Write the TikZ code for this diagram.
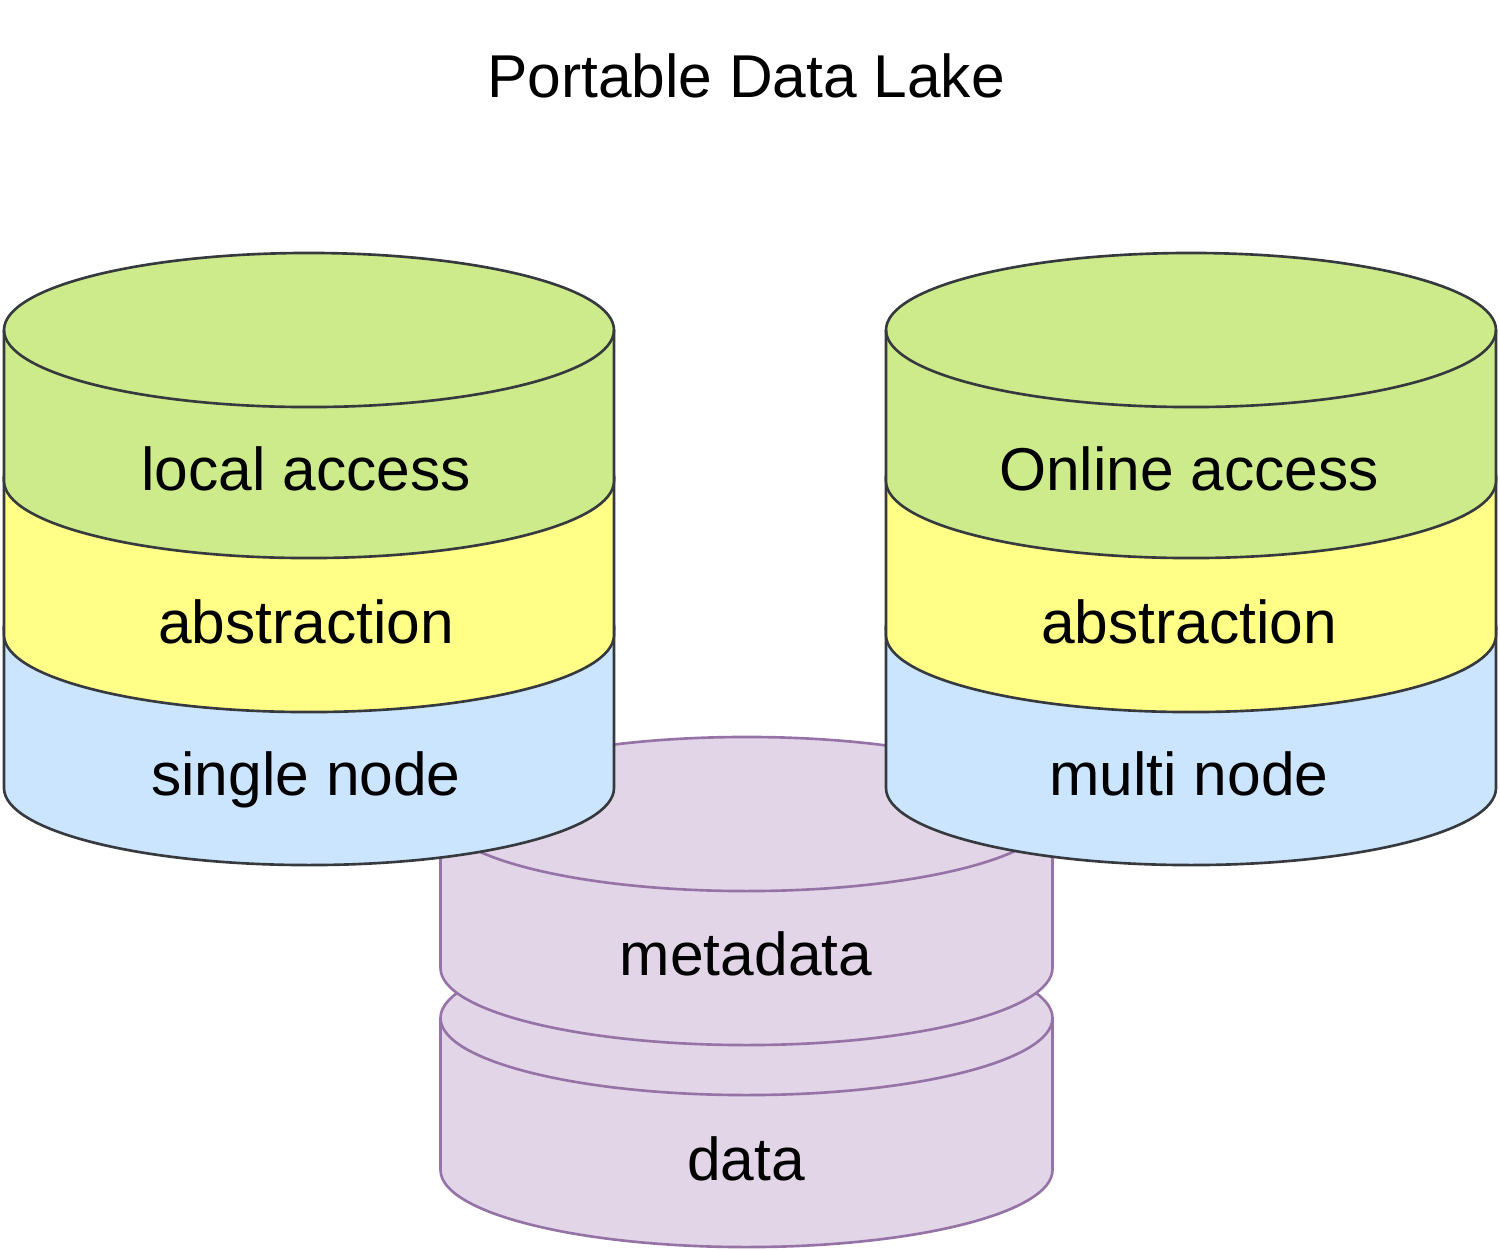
\documentclass[tikz,border=0pt]{standalone}
\usepackage{fontspec}
\setmainfont{Liberation Sans}
\definecolor{gfill}{HTML}{CDEB8B}
\definecolor{yfill}{HTML}{FFFF88}
\definecolor{bfill}{HTML}{CCE5FF}
\definecolor{pfill}{HTML}{E1D5E7}
\definecolor{dstroke}{HTML}{36393D}
\definecolor{pstroke}{HTML}{9673A6}
% #1 centre x, #2 half width, #3 top y, #4 bottom y, #5 style (pixel units, y down)
\newcommand\dbcyl[5]{%
  \path[#5] ({#1-#2},{#3+77}) arc[start angle=180,end angle=0,x radius=#2*0.01cm,y radius=0.77cm]
     -- ({#1+#2},{#4-77}) arc[start angle=0,end angle=-180,x radius=#2*0.01cm,y radius=0.77cm] -- cycle;
  \path[#5,fill=none] ({#1-#2},{#3+77}) arc[start angle=180,end angle=360,x radius=#2*0.01cm,y radius=0.77cm];
}
\begin{document}
\begin{tikzpicture}[x=0.01cm,y=-0.01cm,
  lbl/.style={anchor=base,inner sep=0pt,font=\fontsize{17.2}{20}\selectfont},
  gcyl/.style={fill=gfill,draw=dstroke,line width=0.75pt},
  ycyl/.style={fill=yfill,draw=dstroke,line width=0.75pt},
  bcyl/.style={fill=bfill,draw=dstroke,line width=0.75pt},
  pcyl/.style={fill=pfill,draw=pstroke,line width=0.75pt}]
\useasboundingbox (0,0) rectangle (1500,1250);
% purple store
\dbcyl{746.5}{306}{941}{1247}{pcyl}
\dbcyl{746.5}{306}{737}{1045}{pcyl}
% left stack
\dbcyl{309}{305}{550}{865}{bcyl}
\dbcyl{309}{305}{400}{712}{ycyl}
\dbcyl{309}{305}{253}{558}{gcyl}
% right stack
\dbcyl{1191}{305}{550}{865}{bcyl}
\dbcyl{1191}{305}{400}{712}{ycyl}
\dbcyl{1191}{305}{253}{558}{gcyl}
% labels
\node[lbl] (title) at (746,97) {Portable Data Lake};
\node[lbl] (la) at (306,490) {local access};
\node[lbl] (ab1) at (306,643) {abstraction};
\node[lbl] (sn) at (306,795) {single node};
\node[lbl] (oa) at (1189,490) {Online access};
\node[lbl] (ab2) at (1189,643) {abstraction};
\node[lbl] (mn) at (1189,795) {multi node};
\node[lbl] (md) at (746,975) {metadata};
\node[lbl] (dt) at (746,1180) {data};
\end{tikzpicture}
\end{document}
